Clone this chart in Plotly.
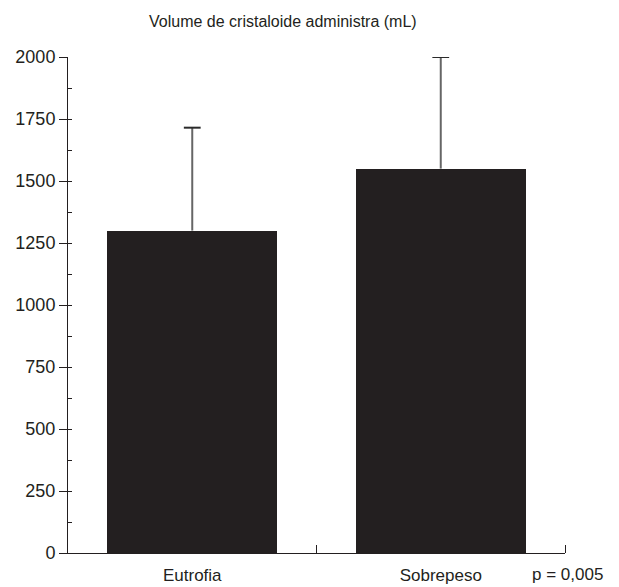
import plotly.graph_objects as go

# Data
categories = ["Eutrofia", "Sobrepeso"]
volume_means = [1300, 1550]
volume_sd = [415, 450]
title_text = "Volume de cristaloide administra (mL)"
p_text = "p = 0,005"
y_ticks = [0, 250, 500, 750, 1000, 1250, 1500, 1750, 2000]

ink = "#231f20"
font = dict(family="Liberation Sans, Arial, sans-serif", size=17, color=ink)
tick_font = dict(font, size=18)

xpos = list(range(len(categories)))

fig = go.Figure()
fig.add_trace(go.Bar(
    x=xpos,
    y=volume_means,
    width=0.685,
    marker=dict(color=ink, line=dict(width=0)),
    showlegend=False,
    hoverinfo="skip",
))

# upper error whiskers (one-sided, no cap at the bar top)
wx, wy, cy = [], [], []
for x, m, s in zip(xpos, volume_means, volume_sd):
    wx += [x, x, None]
    wy += [m, m + s, None]
    cy.append(m + s)
fig.add_trace(go.Scatter(
    x=wx, y=wy, mode="lines",
    line=dict(color="#666666", width=2),
    showlegend=False, hoverinfo="skip",
))
fig.add_trace(go.Scatter(
    x=xpos, y=cy, mode="markers",
    marker=dict(symbol="line-ew", size=12,
                line=dict(color="#2a2a2a", width=2)),
    showlegend=False, hoverinfo="skip",
))

fig.update_layout(
    width=619, height=587,
    margin=dict(l=68, r=54, t=57, b=34, pad=0),
    paper_bgcolor="white", plot_bgcolor="white",
    font=font,
    bargap=0,
    xaxis=dict(
        range=[-0.5, 1.5], automargin=False,
        tickmode="array", tickvals=[0, 1], ticktext=categories,
        tickfont=font,
        ticks="", showgrid=False, zeroline=False,
        showline=True, linecolor=ink, linewidth=1,
        ticklabelstandoff=7,
        minor=dict(tickmode="array", tickvals=[0.5, 1.5], ticks="inside",
                   ticklen=8, tickcolor=ink, tickwidth=1, showgrid=False),
    ),
    yaxis=dict(
        range=[0, 2000], automargin=False,
        tickmode="array", tickvals=y_ticks,
        tickfont=tick_font,
        ticks="outside", ticklen=8, tickcolor=ink, tickwidth=1,
        showgrid=False, zeroline=False,
        showline=True, linecolor=ink, linewidth=1,
        ticklabelstandoff=0,
    ),
    yaxis2=dict(
        range=[0, 2000], overlaying="y", side="left", automargin=False,
        tickmode="linear", tick0=0, dtick=125,
        ticks="inside", ticklen=4, tickcolor=ink, tickwidth=1,
        showticklabels=False, showgrid=False, zeroline=False, showline=False,
    ),
)

# invisible trace so the inside-tick axis is drawn
fig.add_trace(go.Scatter(x=[None], y=[None], yaxis="y2", showlegend=False,
                         hoverinfo="skip"))

fig.add_annotation(text=title_text, xref="paper", yref="paper",
                   x=0.433, y=1.0, yshift=36, xanchor="center", yanchor="middle",
                   showarrow=False, font=dict(font, size=16))
fig.add_annotation(text=p_text, xref="paper", yref="paper",
                   x=1.0, y=0, xshift=40, yshift=-21, xanchor="right",
                   yanchor="middle", showarrow=False, font=font)

fig.write_html("out.html")
